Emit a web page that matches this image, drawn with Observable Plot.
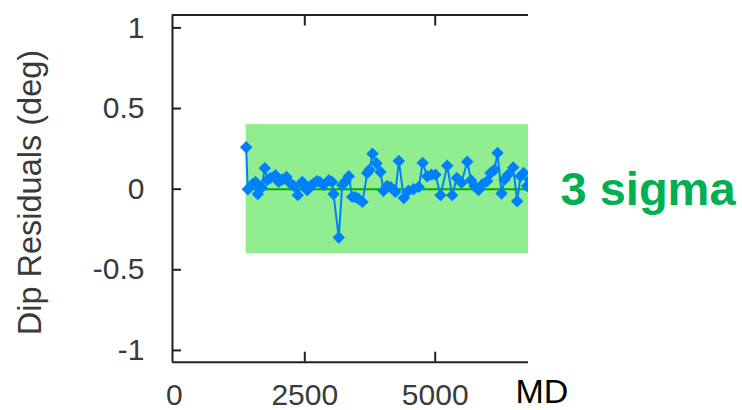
<!DOCTYPE html>
<html>
<head>
<meta charset="utf-8">
<script src="https://cdn.jsdelivr.net/npm/d3@7"></script>
<script src="https://cdn.jsdelivr.net/npm/@observablehq/plot@0.6"></script>
<style>
  html, body { margin: 0; padding: 0; background: #fff; }
  #chart svg { display: block; }
</style>
</head>
<body>
<div id="chart"></div>
<script>
// Measured depth (MD) and dip residuals (deg)
const md = [1376, 1407, 1497, 1555, 1599, 1670, 1733, 1779, 1842, 1938,
  2001, 2072, 2149, 2226, 2293, 2366, 2450, 2494, 2546, 2609,
  2672, 2734, 2787, 2858, 2960, 3025, 3050, 3151, 3217, 3280,
  3343, 3408, 3472, 3529, 3606, 3696, 3740, 3798, 3874, 3951,
  4008, 4076, 4143, 4206, 4238, 4302, 4398, 4488, 4584, 4685,
  4760, 4846, 4929, 5005, 5101, 5230, 5325, 5414, 5504, 5613,
  5686, 5753, 5830, 5906, 5996, 6060, 6136, 6194, 6271, 6328,
  6396, 6495, 6571, 6635, 6692, 6759, 6826];
const residual = [0.26, 0.00, 0.03, 0.045, -0.03, 0.01, 0.13, 0.056, 0.07, 0.087,
  0.045, 0.06, 0.076, 0.035, 0.02, -0.037, 0.045, 0.03, -0.006, 0.02,
  0.035, 0.05, 0.045, 0.025, 0.056, 0.045, -0.03, -0.30, 0.025, 0.05,
  0.08, -0.048, -0.05, -0.06, -0.079, 0.10, 0.12, 0.22, 0.16, 0.107,
  -0.01, 0.02, 0.014, -0.005, -0.017, 0.175, -0.055, -0.01, 0.00, 0.014,
  0.163, 0.08, 0.09, 0.09, -0.037, 0.145, -0.037, 0.07, 0.04, 0.17,
  0.056, 0.02, -0.006, 0.03, 0.05, 0.10, 0.12, 0.225, -0.027, 0.06,
  0.09, 0.135, -0.075, 0.08, 0.10, 0.02, 0.06];

const bandMD = [1376, 7200];        // 3-sigma band extent
const bandLimits = [-0.4, 0.4];     // 3-sigma limits
const zeroLineMD = [1400, 7200];
const xTicks = [0, 2500, 5000];
const xTickMarks = [2500, 5000];
const yTicks = [-1, -0.5, 0, 0.5, 1];
const xDomain = [-36, 6788];
const yDomain = [-1.073, 1.08];

const data = md.map((m, i) => ({md: m, res: residual[i]}));

const fmt = d => String(d);

const chart = Plot.plot({
  width: 742,
  height: 410,
  marginLeft: 172,
  marginRight: 214,
  marginTop: 14.5,
  marginBottom: 48.3,
  style: {fontFamily: "'Liberation Sans', Arial, sans-serif", background: "#fff", overflow: "visible"},
  x: {domain: xDomain},
  y: {domain: yDomain},
  marks: [
    Plot.rect([0], {x1: bandMD[0], x2: bandMD[1], y1: bandLimits[0], y2: bandLimits[1], fill: "#90ee90", clip: true}),
    Plot.ruleY([0], {x1: zeroLineMD[0], x2: zeroLineMD[1], stroke: "#00b000", strokeWidth: 2, clip: true}),
    Plot.line(data, {x: "md", y: "res", stroke: "#0080ff", strokeWidth: 2, clip: true}),
    Plot.dot(data, {x: "md", y: "res", symbol: "diamond2", r: 5.6, fill: "#0080ff", stroke: "none", clip: true}),
    // frame (top, bottom, left)
    Plot.ruleY([yDomain[0], yDomain[1]], {stroke: "#222", strokeWidth: 2}),
    Plot.ruleX([xDomain[0]], {stroke: "#222", strokeWidth: 2}),
    // axes
    Plot.axisY({ticks: yTicks, tickSize: 0, tickPadding: 28, tickFormat: fmt, fontSize: 30, fill: "#3a3a3a", label: null}),
    Plot.axisY({ticks: yTicks, tickSize: -9, text: null, label: null, stroke: "#222", strokeWidth: 2}),
    Plot.axisX({ticks: xTicks, tickSize: 0, tickPadding: 21, tickFormat: fmt, fontSize: 30, fill: "#3a3a3a", label: null}),
    Plot.axisX({ticks: xTickMarks, anchor: "bottom", tickSize: -10, text: null, label: null, stroke: "#222", strokeWidth: 2}),
    Plot.axisX({ticks: xTickMarks, anchor: "top", tickSize: -10, text: null, label: null, stroke: "#222", strokeWidth: 2}),
    // labels
    Plot.text(["Dip Residuals (deg)"], {text: d => d, frameAnchor: "left", dx: -142, dy: 4, rotate: -90, textAnchor: "middle", lineAnchor: "middle", fontSize: 32.5, fill: "#3a3a3a"}),
    Plot.text(["MD"], {text: d => d, frameAnchor: "bottom-right", dx: -13, dy: 41, textAnchor: "start", fontSize: 34, fill: "#000"}),
    Plot.text(["3 sigma"], {text: d => d, frameAnchor: "right", dx: 32, dy: 1, textAnchor: "start", fontSize: 47, fontWeight: "bold", fill: "#00b050"})
  ]
});

document.getElementById("chart").append(chart);
</script>
</body>
</html>
